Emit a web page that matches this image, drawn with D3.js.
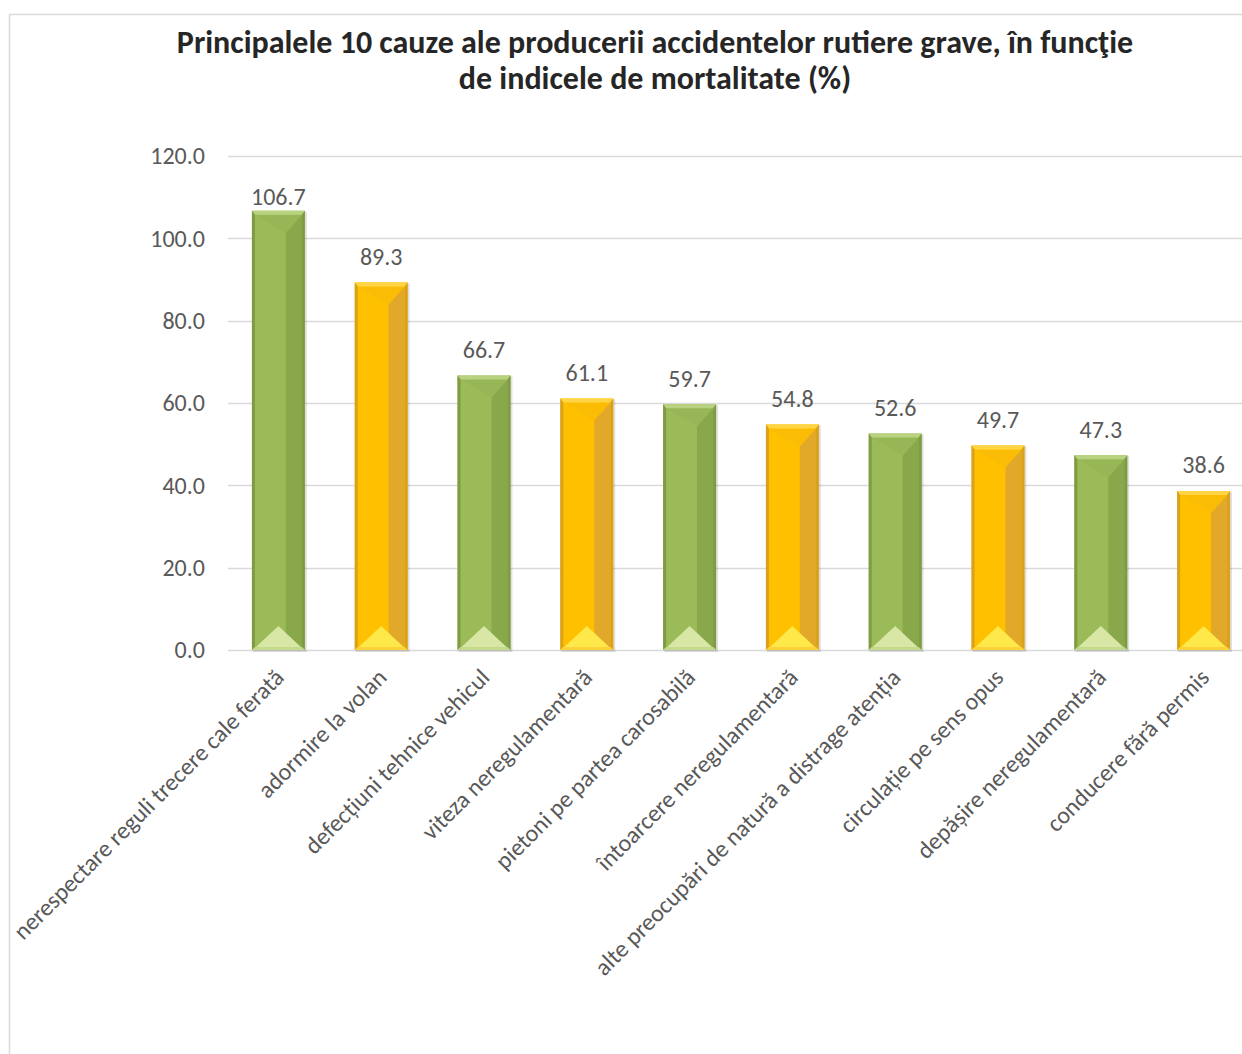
<!DOCTYPE html>
<html><head><meta charset="utf-8">
<script src="https://cdn.jsdelivr.net/npm/d3@7"></script>
<style>
html,body{margin:0;padding:0;background:#fff;}
text{font-family:Carlito,Calibri,Lato,sans-serif;}
</style></head>
<body>
<svg id="c" width="1242" height="1054"></svg>
<script>
const categories = [
  "nerespectare reguli trecere cale ferată",
  "adormire la volan",
  "defecțiuni tehnice vehicul",
  "viteza neregulamentară",
  "pietoni pe partea carosabilă",
  "întoarcere neregulamentară",
  "alte preocupări de natură a distrage atenția",
  "circulație pe sens opus",
  "depășire neregulamentară",
  "conducere fără permis"
];
const values = [106.7, 89.3, 66.7, 61.1, 59.7, 54.8, 52.6, 49.7, 47.3, 38.6];
const yTicks = [0, 20, 40, 60, 80, 100, 120];
const titleLines = ["Principalele 10 cauze ale producerii accidentelor rutiere grave, în funcţie", "de indicele de mortalitate (%)"];

const palettes = [
  {base:"#9BBB59", right:"#89A84C", top:"#B9D27F", roof:"#97B756", edge:"#7F9C45", bottom:"#D9E7A6", bstrip:"#C3DA8A"},
  {base:"#FFC000", right:"#E1A82A", top:"#FFD545", roof:"#FBBC06", edge:"#D9A21E", bottom:"#FFE94A", bstrip:"#FFD23A"}
];

const svg = d3.select("#c");
svg.append("rect").attr("x",0).attr("y",0).attr("width",1242).attr("height",1054).attr("fill","#fff");
// chart border (partially visible)
svg.append("path").attr("d","M9.5,1060 V14.5 H1250").attr("fill","none").attr("stroke","#D9D9D9").attr("stroke-width",1.5);

const x = d3.scaleBand().domain(categories).range([227, 1255]).paddingInner(0.485).paddingOuter(0.2425);
const y = d3.scaleLinear().domain([0,120]).range([650,156]);

// gridlines
svg.append("g").selectAll("line").data(yTicks).join("line")
  .attr("x1",228).attr("x2",1250)
  .attr("y1",d=>Math.round(y(d))+0.5).attr("y2",d=>Math.round(y(d))+0.5)
  .attr("stroke","#D9D9D9").attr("stroke-width",1.3);

// y tick labels
svg.append("g").selectAll("text").data(yTicks).join("text")
  .attr("x",205).attr("y",d=>y(d)).attr("dy","0.35em")
  .attr("text-anchor","end").attr("fill","#595959").attr("font-size",24)
  .text(d=>d.toFixed(1));

// bars
const bars = svg.append("g").selectAll("g").data(values).join("g")
  .attr("transform",(d,i)=>`translate(${x(categories[i])},${y(d)})`);

bars.each(function(d,i){
  const g = d3.select(this);
  const p = palettes[i%2];
  const w = x.bandwidth();
  const h = y(0) - y(d);
  const px = w*0.64;
  g.append("rect").attr("x",1).attr("y",1).attr("width",w+1).attr("height",h+1).attr("fill","#000").attr("opacity",0.12);
  g.append("rect").attr("x",0).attr("y",0).attr("width",w).attr("height",h).attr("fill",p.base);
  g.append("polygon").attr("points",`${px},22 ${w-3},4 ${w-3},${h-3} ${px},${h-3}`).attr("fill",p.right);
  g.append("polygon").attr("points",`3,4 ${w-3},4 ${px},22`).attr("fill",p.roof);
  g.append("polygon").attr("points",`4,${h-3} ${w-4},${h-3} ${w/2},${h-24}`).attr("fill",p.bottom);
  g.append("polygon").attr("points",`0,0 ${w},0 ${w-3},4 3,4`).attr("fill",p.top);
  g.append("polygon").attr("points",`0,0 3,4 3,${h-3} 0,${h}`).attr("fill",p.edge);
  g.append("polygon").attr("points",`${w},0 ${w-3},4 ${w-3},${h-3} ${w},${h}`).attr("fill",p.edge);
  g.append("polygon").attr("points",`0,${h} 3,${h-3} ${w-3},${h-3} ${w},${h}`).attr("fill",p.bstrip);
});

// data labels (kept inside the plot area, like the original)
svg.append("g").selectAll("text").data(values).join("text")
  .attr("x",(d,i)=>x(categories[i])+x.bandwidth()/2)
  .attr("y",d=>Math.max(y(d)-26, y(120)+41))
  .attr("dy","0.35em")
  .attr("text-anchor","middle").attr("fill","#595959").attr("font-size",24)
  .text(d=>d.toFixed(1));

// category labels
svg.append("g").selectAll("text").data(categories).join("text")
  .attr("transform",(d)=>`translate(${x(d)+x.bandwidth()/2+1},${673}) rotate(-45)`)
  .attr("text-anchor","end").attr("dy","0.35em")
  .attr("fill","#595959").attr("font-size",24)
  .text(d=>d);

// title
svg.append("g").selectAll("text").data(titleLines).join("text")
  .attr("x",655).attr("y",(d,i)=>53+i*36)
  .attr("text-anchor","middle").attr("font-weight","bold").attr("font-size",32).attr("fill","#262626")
  .text(d=>d);
</script>
</body></html>
